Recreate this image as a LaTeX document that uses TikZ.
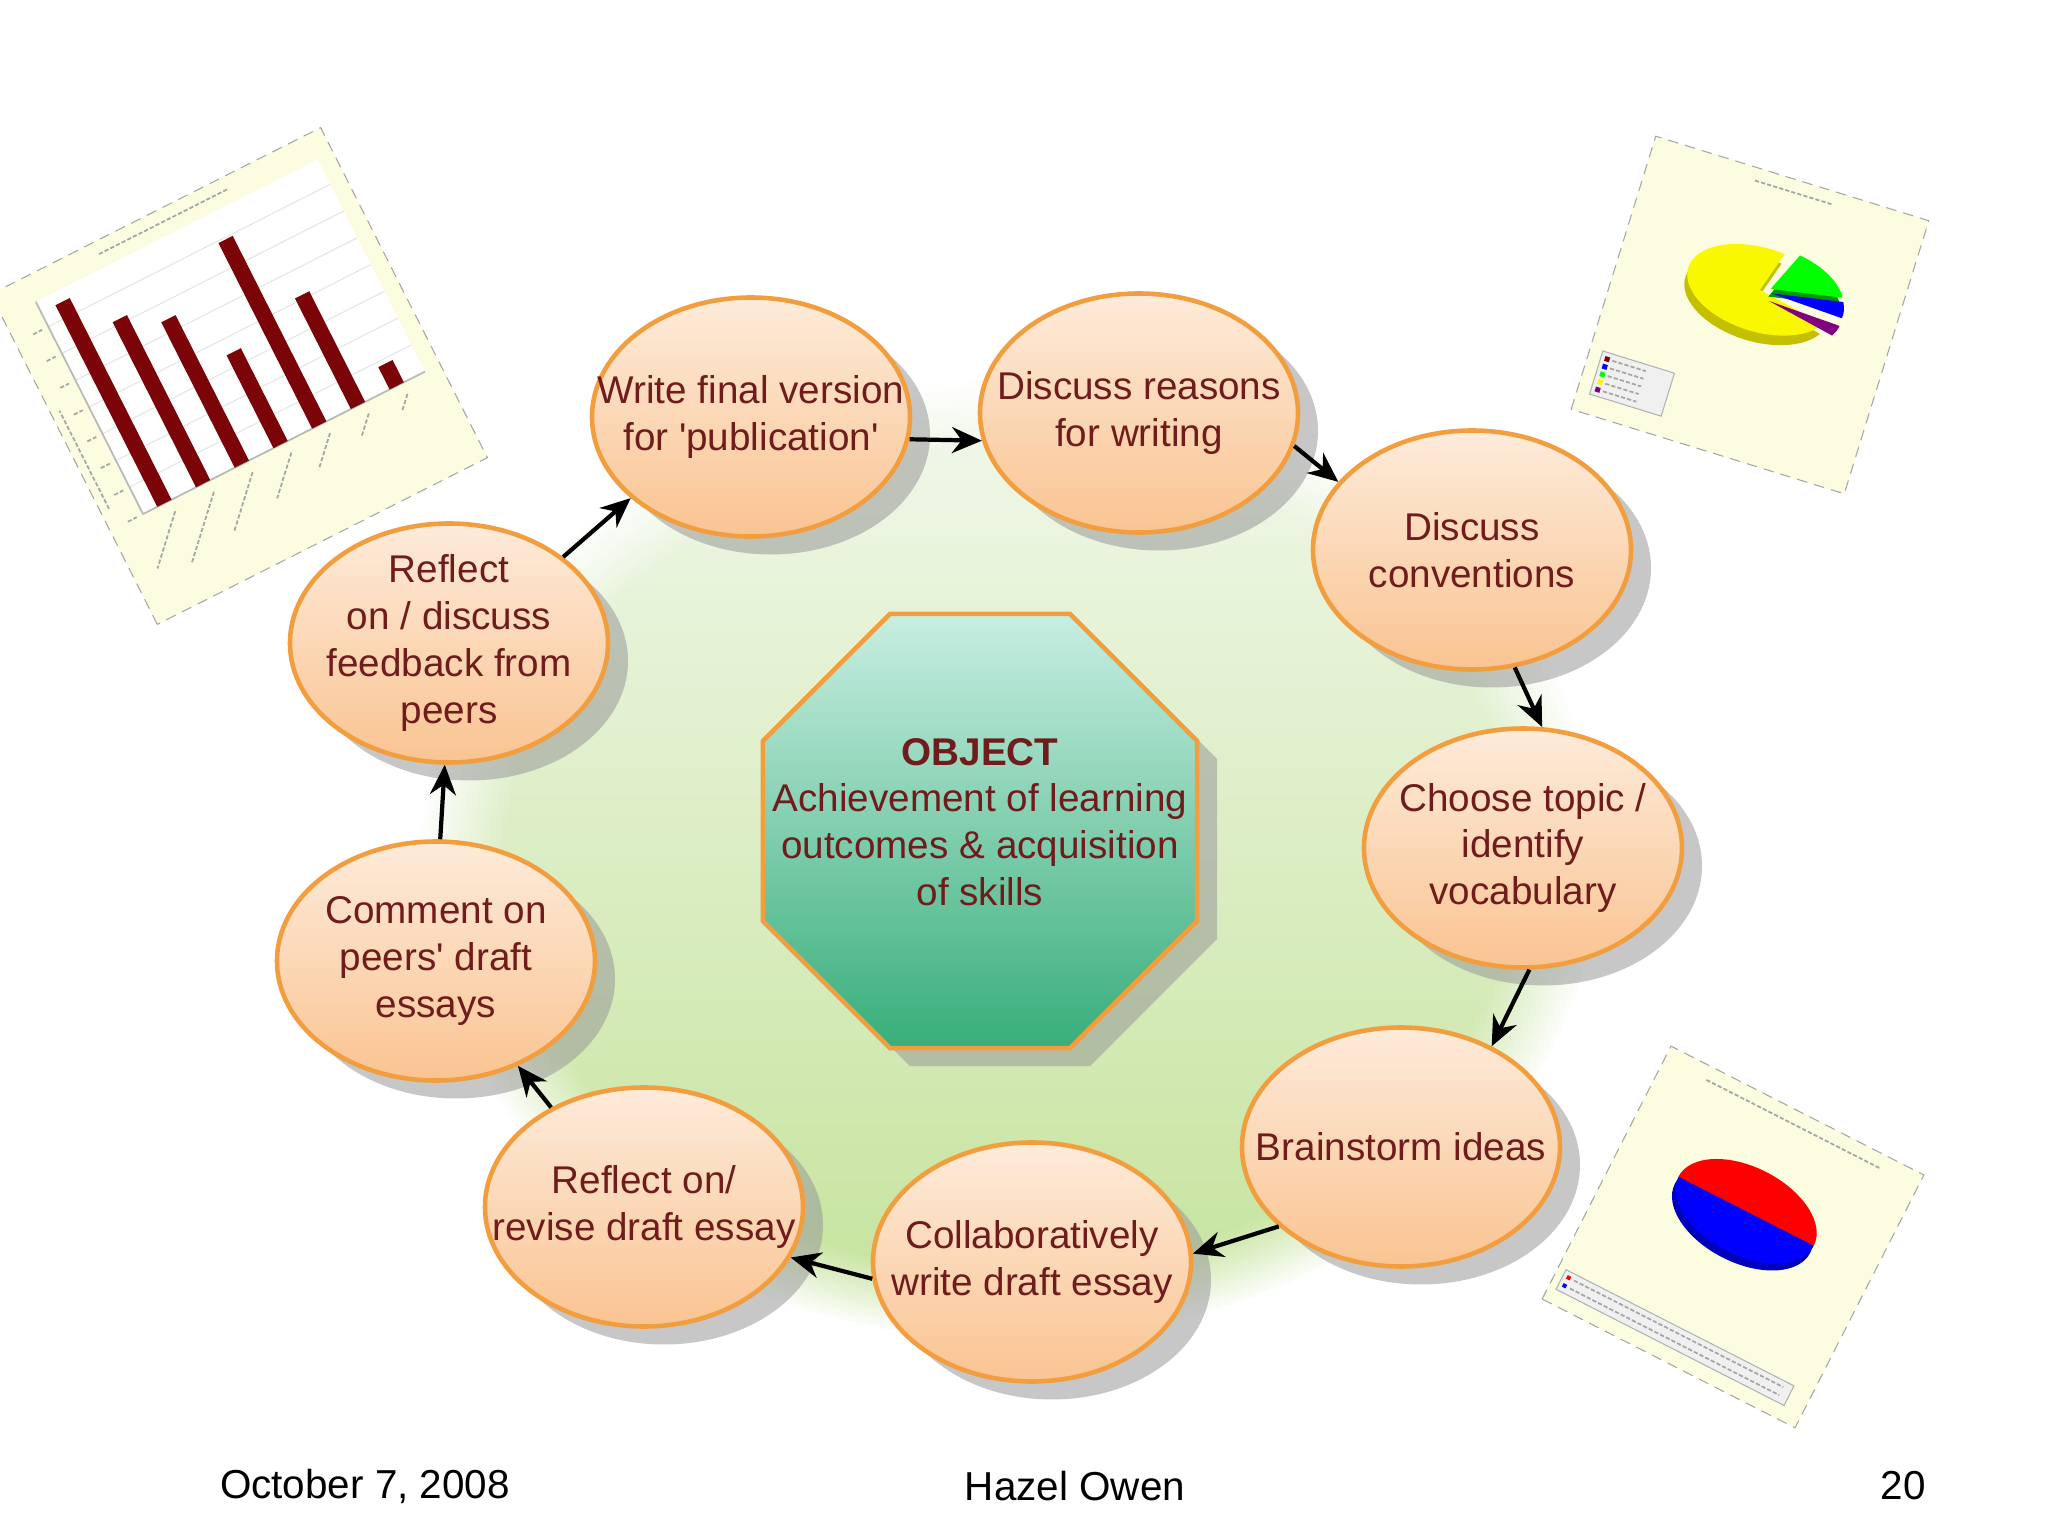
\documentclass[tikz,border=0pt]{standalone}
\usepackage{fontspec}
\setmainfont{Liberation Sans}
\newfontfamily\stagefont{Liberation Sans}
\usetikzlibrary{shapes.geometric,shadows,arrows.meta,fadings}

\definecolor{stageedge}{RGB}{242,158,62}
\definecolor{stagetop}{RGB}{253,235,218}
\definecolor{stagebottom}{RGB}{250,196,146}
\definecolor{stagetext}{RGB}{112,28,28}
\definecolor{octtop}{RGB}{200,238,226}
\definecolor{octbottom}{RGB}{56,174,122}
\definecolor{blobtop}{RGB}{242,248,236}
\definecolor{blobbottom}{RGB}{196,227,154}
\definecolor{chartbg}{RGB}{252,252,224}
\definecolor{barred}{RGB}{122,4,8}
\definecolor{pieyellow}{RGB}{250,248,0}
\definecolor{pieolive}{RGB}{196,192,0}

\begin{document}
\begin{tikzpicture}[
  stage/.style={ellipse, draw=stageedge, line width=1.3pt,
    top color=stagetop, bottom color=stagebottom,
    minimum width=3.18cm, minimum height=2.39cm, inner sep=-5mm,
    align=center, text=stagetext, font=\stagefont\fontsize{11}{13.3}\selectfont,
    drop shadow={shadow xshift=0.2cm, shadow yshift=-0.18cm, fill=black!40, opacity=0.55}},
  flow/.style={-{Stealth[length=3mm,width=2.6mm]}, line width=1.2pt},
  footer/.style={font=\fontsize{11.5}{14}\selectfont},
  chartframe/.style={fill=chartbg, draw=gray!70, densely dashed, line width=0.3pt},
  scribble/.style={gray!70, line width=0.5pt, dash pattern=on 1.2pt off 0.6pt}
]
% Page
\fill[white] (0,0) rectangle (20.48,-15.36);
\useasboundingbox (0,0) rectangle (20.48,-15.36);

% Green background
\shade[top color=blobtop, bottom color=blobbottom, path fading=circle with fuzzy edge 15 percent]
  (10.1,-8.6) ellipse [x radius=5.9, y radius=4.8];

% Bar chart (top left)
\begin{scope}[shift={(2.39,-3.76)}, rotate=26.8, x=0.01cm, y=0.01cm]
  \filldraw[chartframe] (-185,-185) rectangle (185,185);
  \fill[white] (-148,-80) rectangle (168,158);
  \foreach \g in {-50,-20,...,130}
    \draw[gray!20, line width=0.3pt] (-148,\g) -- (168,\g);
  \draw[gray!55, line width=0.5pt] (-148,158) -- (-148,-80) -- (168,-80);
  \foreach \i/\h in {0/226,1/185,2/163,3/104,4/208,5/124,6/25}
    \fill[barred] ({-132+43.4*\i},-80) rectangle ++(16,\h);
  \draw[scribble] (-70,172) -- (75,172);
  \foreach \i/\l in {0/60,1/75,2/62,3/48,4/38,5/24,6/18}
    \draw[scribble] ({-118+43.4*\i},-92) -- ++(226:\l);
  \foreach \g in {-80,-50,...,130}
    \draw[scribble] (-165,\g) -- (-155,\g);
  \draw[scribble] (-176,-60) -- (-176,50);
\end{scope}

% Pie chart (top right)
\begin{scope}[shift={(17.50,-3.15)}, rotate=-17.2, x=0.01cm, y=0.01cm]
  \filldraw[chartframe] (-143,-143) rectangle (143,143);
  \fill[pieolive] (2,17) -- ++(80:75 and 42) arc[start angle=80, end angle=340, x radius=75, y radius=42] -- cycle;
  \fill[pieyellow] (2,27) -- ++(80:75 and 42) arc[start angle=80, end angle=340, x radius=75, y radius=42] -- cycle;
  \fill[green!60!black] (12,23) -- ++(18:75 and 42) arc[start angle=18, end angle=76, x radius=75, y radius=42] -- cycle;
  \fill[green] (12,31) -- ++(18:75 and 42) arc[start angle=18, end angle=76, x radius=75, y radius=42] -- cycle;
  \fill[violet] (14,19) -- ++(-20:75 and 42) arc[start angle=-20, end angle=-4, x radius=75, y radius=42] -- cycle;
  \fill[blue] (14,27) -- ++(-4:75 and 42) arc[start angle=-4, end angle=18, x radius=75, y radius=42] -- cycle;
  \filldraw[fill=gray!12, draw=gray!60, line width=0.3pt] (-130,-123) rectangle (-55,-78);
  \foreach \k/\c in {0/barred,1/blue,2/green,3/pieyellow,4/violet} {
    \fill[\c] (-126,{-82-8*\k}) rectangle ++(5,-5);
    \draw[scribble] (-118,{-84.5-8*\k}) -- ++(35,0);
  }
  \draw[scribble] (-35,130) -- (45,130);
\end{scope}

% Pie chart (bottom right)
\begin{scope}[shift={(17.33,-12.37)}, rotate=-27, x=0.01cm, y=0.01cm]
  \filldraw[chartframe] (-142,-142) rectangle (142,142);
  \fill[blue!75!black] (0,21) ellipse [x radius=76, y radius=44];
  \fill[blue] (-76,29) arc[start angle=180, end angle=360, x radius=76, y radius=44] -- cycle;
  \fill[red] (76,29) arc[start angle=0, end angle=180, x radius=76, y radius=44] -- cycle;
  \filldraw[fill=gray!12, draw=gray!60, line width=0.3pt] (-134,-127) rectangle (122,-105);
  \foreach \k/\c in {0/red,1/blue} {
    \fill[\c] (-130,{-109-9*\k}) rectangle ++(4,-4);
    \draw[scribble] (-122,{-111-9*\k}) -- ++(235,0);
  }
  \draw[scribble] (-95,128) -- (100,128);
\end{scope}

% Object
\node[regular polygon, regular polygon sides=8, minimum size=4.7cm, inner sep=0pt,
  draw=stageedge, line width=1.3pt, top color=octtop, bottom color=octbottom,
  drop shadow={shadow xshift=0.2cm, shadow yshift=-0.18cm, fill=black!40, opacity=0.55}]
  (object) at (9.80,-8.31) {};
\node[align=center, text=stagetext, font=\stagefont\fontsize{11}{13.3}\selectfont]
  (objtext) at (9.80,-8.22) {\textbf{OBJECT}\\Achievement of learning\\outcomes \& acquisition\\of skills};

% Stages of the cycle
\node[stage] (e1) at (7.51,-4.17) {Write final version\\for 'publication'};
\node[stage] (e2) at (11.39,-4.13) {Discuss reasons\\for writing};
\node[stage] (e3) at (14.72,-5.50) {Discuss\\conventions};
\node[stage] (e4) at (15.23,-8.48) {Choose topic /\\identify\\vocabulary};
\node[stage] (e5) at (14.01,-11.47) {Brainstorm ideas};
\node[stage] (e6) at (10.32,-12.62) {Collaboratively\\write draft essay};
\node[stage] (e7) at (6.44,-12.07) {Reflect on/\\revise draft essay};
\node[stage] (e8) at (4.36,-9.61) {Comment on\\peers' draft\\essays};
\node[stage] (e9) at (4.49,-6.43) {Reflect\\on / discuss\\feedback from\\peers};

% Arrows
\foreach \a/\b in {e9.37/e1.214, e1.352/e2.190, e2.348/e3.153, e3.290/e4.81,
                   e4.273/e5.48, e5.213/e6.3, e6.186/e7.341, e7.133/e8.308, e8.88/e9.268}
  \draw[flow] (\a) -- (\b);

% Footer
\node[footer] (date) at (3.65,-14.86) {October 7, 2008};
\node[footer] (author) at (10.75,-14.86) {Hazel Owen};
\node[footer] (page) at (19.03,-14.86) {20};
\end{tikzpicture}
\end{document}
